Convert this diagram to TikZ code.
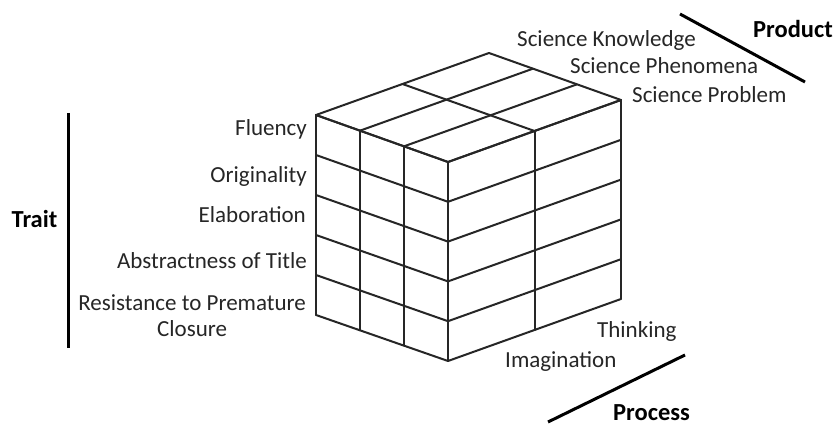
\documentclass[tikz,border=0pt]{standalone}
\usepackage{fontspec}
\setmainfont{Carlito}
\usetikzlibrary{calc}
\begin{document}
\begin{tikzpicture}[x=1pt,y=-1pt,
  grid/.style={draw=black!85, line width=2pt, line cap=round, line join=round},
  axisline/.style={draw=black, line width=3pt},
  lbl/.style={inner sep=0pt, text=black!85, font=\fontsize{23}{26}\selectfont},
  ttl/.style={inner sep=0pt, text=black, font=\fontsize{24.5}{28}\selectfont\bfseries}]
\useasboundingbox[fill=white] (0,0) rectangle (836,427);
% cube corners
\coordinate (L) at (316,115);
\coordinate (F) at (448,162);
\coordinate (R) at (621,100);
\coordinate (B) at ($(L)+(R)-(F)$);
\coordinate (Lb) at (316,315);
\coordinate (Fb) at (448,361);
\coordinate (Rb) at (621,299);
% left face: 5 rows, 3 columns
\foreach \i in {0,...,5} \draw[grid] ($(L)!\i/5!(Lb)$) -- ($(F)!\i/5!(Fb)$);
\foreach \j in {0,...,3} \draw[grid] ($(L)!\j/3!(F)$) -- ($(Lb)!\j/3!(Fb)$);
% right face: 5 rows, 2 columns
\foreach \i in {0,...,5} \draw[grid] ($(F)!\i/5!(Fb)$) -- ($(R)!\i/5!(Rb)$);
\foreach \j in {0,1,2} \draw[grid] ($(F)!\j/2!(R)$) -- ($(Fb)!\j/2!(Rb)$);
% top face: 3 x 2
\foreach \j in {0,1,2} \draw[grid] ($(L)!\j/2!(B)$) -- ($(F)!\j/2!(R)$);
\foreach \j in {0,...,3} \draw[grid] ($(L)!\j/3!(F)$) -- ($(B)!\j/3!(R)$);
% axis lines
\coordinate (traitA) at (68,113);
\coordinate (traitB) at (68,348);
\coordinate (prodA) at (680,14);
\coordinate (prodB) at (805,82);
\coordinate (procA) at (548,422);
\coordinate (procB) at (685,355);
\draw[axisline] (traitA) -- (traitB);
\draw[axisline] (prodA) -- (prodB);
\draw[axisline] (procA) -- (procB);
% titles
\node[ttl, anchor=mid] (trait) at (34.5,225) {Trait};
\node[ttl, anchor=mid west] (product) at (753,35) {Product};
\node[ttl, anchor=mid west] (process) at (613,418) {Process};
% product labels
\node[lbl, anchor=mid west] (sk) at (517,44) {Science Knowledge};
\node[lbl, anchor=mid west] (sph) at (570,71) {Science Phenomena};
\node[lbl, anchor=mid west] (spr) at (632,100) {Science Problem};
% trait labels
\node[lbl, anchor=mid east] (flu) at (307,133) {Fluency};
\node[lbl, anchor=mid east] (ori) at (307,180) {Originality};
\node[lbl, anchor=mid east] (ela) at (306,220) {Elaboration};
\node[lbl, anchor=mid east] (abs) at (307,266) {Abstractness of Title};
\node[lbl, anchor=east, align=center] (res) at (306,316) {Resistance to Premature\\Closure};
% process labels
\node[lbl, anchor=mid west] (thi) at (597,335) {Thinking};
\node[lbl, anchor=mid west] (ima) at (505,365) {Imagination};
\end{tikzpicture}
\end{document}
